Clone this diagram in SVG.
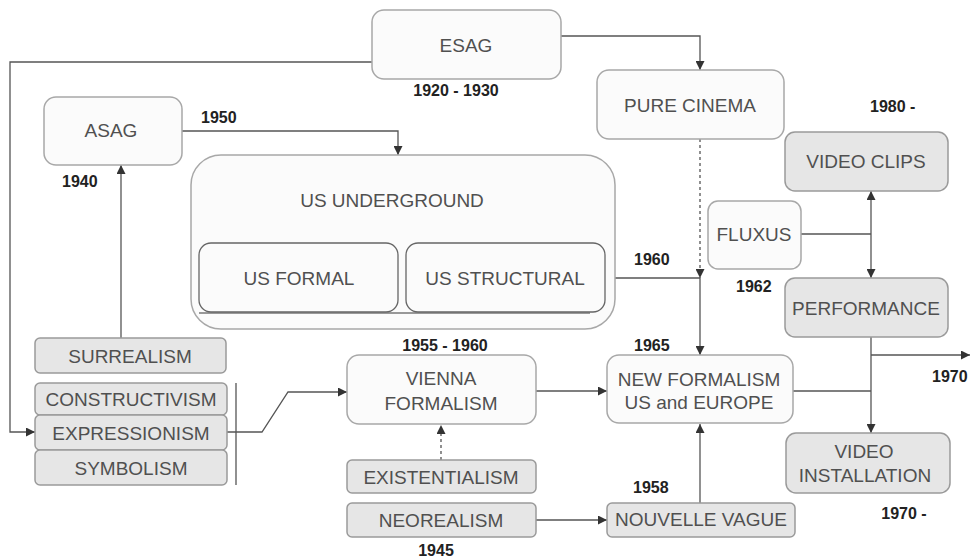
<svg xmlns="http://www.w3.org/2000/svg" width="971" height="560" viewBox="0 0 971 560">
<defs>
<marker id="ah" viewBox="0 0 10 10" refX="10" refY="5" markerWidth="9" markerHeight="9" markerUnits="userSpaceOnUse" orient="auto-start-reverse">
<path d="M0,0 L10,5 L0,10 z" fill="#333"/>
</marker>
</defs>
<style>
.w{fill:#fbfbfb;stroke:#a8a8a8;stroke-width:1.5}
.g{fill:#e6e6e6;stroke:#9a9a9a;stroke-width:1.5}
.in{fill:#fbfbfb;stroke:#666;stroke-width:1.3}
.t{font-family:"Liberation Sans",Arial,sans-serif;font-size:19px;fill:#505050;text-anchor:middle}
.d{font-family:"Liberation Sans",Arial,sans-serif;font-size:16px;font-weight:bold;fill:#222}
.c{fill:none;stroke:#555;stroke-width:1.3}
.a{marker-end:url(#ah)}
.dash{stroke-dasharray:3,3}
</style>
<rect width="971" height="560" fill="#fff"/>

<g id="connectors">
<polyline class="c a" points="372,62 10,62 10,432 35,432"/>
<polyline class="c a" points="561,36 700,36 700,70"/>
<polyline class="c a" points="182,131 398,131 398,155"/>
<line class="c a" x1="121" y1="338" x2="121" y2="165"/>
<line class="c dash a" x1="700" y1="139" x2="700" y2="278"/>
<line class="c" x1="605" y1="278" x2="700" y2="278"/>
<line class="c a" x1="700" y1="278" x2="700" y2="355"/>
<line class="c" x1="801" y1="234" x2="871" y2="234"/>
<line class="c a" x1="871" y1="234" x2="871" y2="191"/>
<line class="c a" x1="871" y1="234" x2="871" y2="278"/>
<line class="c a" x1="871" y1="337" x2="871" y2="433"/>
<line class="c a" x1="871" y1="355" x2="970" y2="355"/>
<line class="c" x1="793" y1="391" x2="871" y2="391"/>
<polyline class="c a" points="226,432 262,432 288,392 347,392"/>
<line class="c" x1="236" y1="383" x2="236" y2="485"/>
<line class="c a" x1="536" y1="391" x2="607" y2="391"/>
<line class="c dash a" x1="441" y1="460" x2="441" y2="425"/>
<line class="c a" x1="536" y1="520" x2="607" y2="520"/>
<line class="c a" x1="700" y1="503" x2="700" y2="424"/>
</g>

<g id="esag">
<rect class="w" x="372" y="10" width="189" height="69" rx="12"/>
<text class="t" x="466" y="52">ESAG</text>
<text class="d" x="456" y="96" text-anchor="middle">1920 - 1930</text>
</g>
<g id="pure-cinema">
<rect class="w" x="597" y="70" width="187" height="69" rx="12"/>
<text class="t" x="690" y="112">PURE CINEMA</text>
</g>
<g id="video-clips">
<rect class="g" x="785" y="132" width="163" height="59" rx="10"/>
<text class="t" x="866" y="168">VIDEO CLIPS</text>
<text class="d" x="870" y="112">1980 -</text>
</g>
<g id="asag">
<rect class="w" x="44" y="97" width="138" height="68" rx="12"/>
<text class="t" x="111" y="137">ASAG</text>
<text class="d" x="201" y="123">1950</text>
<text class="d" x="62" y="187">1940</text>
</g>
<g id="us-underground">
<rect class="w" x="191" y="155" width="424" height="174" rx="30"/>
<text class="t" x="392" y="207">US UNDERGROUND</text>
<line x1="199" y1="313" x2="590" y2="313" stroke="#777" stroke-width="1.5"/>
</g>
<g id="us-formal">
<rect class="in" x="199" y="243" width="199" height="69" rx="12"/>
<text class="t" x="299" y="285">US FORMAL</text>
</g>
<g id="us-structural">
<rect class="in" x="406" y="243" width="199" height="69" rx="12"/>
<text class="t" x="505" y="285">US STRUCTURAL</text>
<text class="d" x="634" y="265">1960</text>
</g>
<g id="fluxus">
<rect class="w" x="708" y="201" width="93" height="68" rx="10"/>
<text class="t" x="754" y="241">FLUXUS</text>
<text class="d" x="736" y="292">1962</text>
</g>
<g id="performance">
<rect class="g" x="785" y="278" width="163" height="59" rx="10"/>
<text class="t" x="866" y="315">PERFORMANCE</text>
<text class="d" x="932" y="382">1970</text>
</g>
<g id="new-formalism">
<rect class="w" x="607" y="355" width="186" height="68" rx="12"/>
<text class="t" x="699" y="386">NEW FORMALISM</text>
<text class="t" x="699" y="409">US and EUROPE</text>
<text class="d" x="634" y="351">1965</text>
</g>
<g id="video-installation">
<rect class="g" x="786" y="433" width="164" height="60" rx="10"/>
<text class="t" x="864" y="458">VIDEO</text>
<text class="t" x="865" y="482">INSTALLATION</text>
<text class="d" x="904" y="519" text-anchor="middle">1970 -</text>
</g>
<g id="vienna-formalism">
<rect class="w" x="347" y="355" width="189" height="69" rx="12"/>
<text class="t" x="441" y="385">VIENNA</text>
<text class="t" x="441" y="410">FORMALISM</text>
<text class="d" x="445" y="351" text-anchor="middle">1955 - 1960</text>
</g>
<g id="existentialism">
<rect class="g" x="347" y="460" width="189" height="33" rx="5"/>
<text class="t" x="441" y="484">EXISTENTIALISM</text>
</g>
<g id="neorealism">
<rect class="g" x="347" y="503" width="189" height="34" rx="5"/>
<text class="t" x="441" y="527">NEOREALISM</text>
<text class="d" x="436" y="556" text-anchor="middle">1945</text>
</g>
<g id="nouvelle-vague">
<rect class="g" x="607" y="503" width="188" height="34" rx="5"/>
<text class="t" x="701" y="526">NOUVELLE VAGUE</text>
<text class="d" x="633" y="493">1958</text>
</g>
<g id="surrealism">
<rect class="g" x="35" y="338" width="191" height="35" rx="5"/>
<text class="t" x="130" y="363">SURREALISM</text>
</g>
<g id="constructivism">
<rect class="g" x="35" y="383" width="192" height="32" rx="5"/>
<text class="t" x="131" y="406">CONSTRUCTIVISM</text>
</g>
<g id="expressionism">
<rect class="g" x="35" y="415" width="192" height="35" rx="5"/>
<text class="t" x="131" y="440">EXPRESSIONISM</text>
</g>
<g id="symbolism">
<rect class="g" x="35" y="450" width="192" height="35" rx="5"/>
<text class="t" x="131" y="475">SYMBOLISM</text>
</g>
</svg>
